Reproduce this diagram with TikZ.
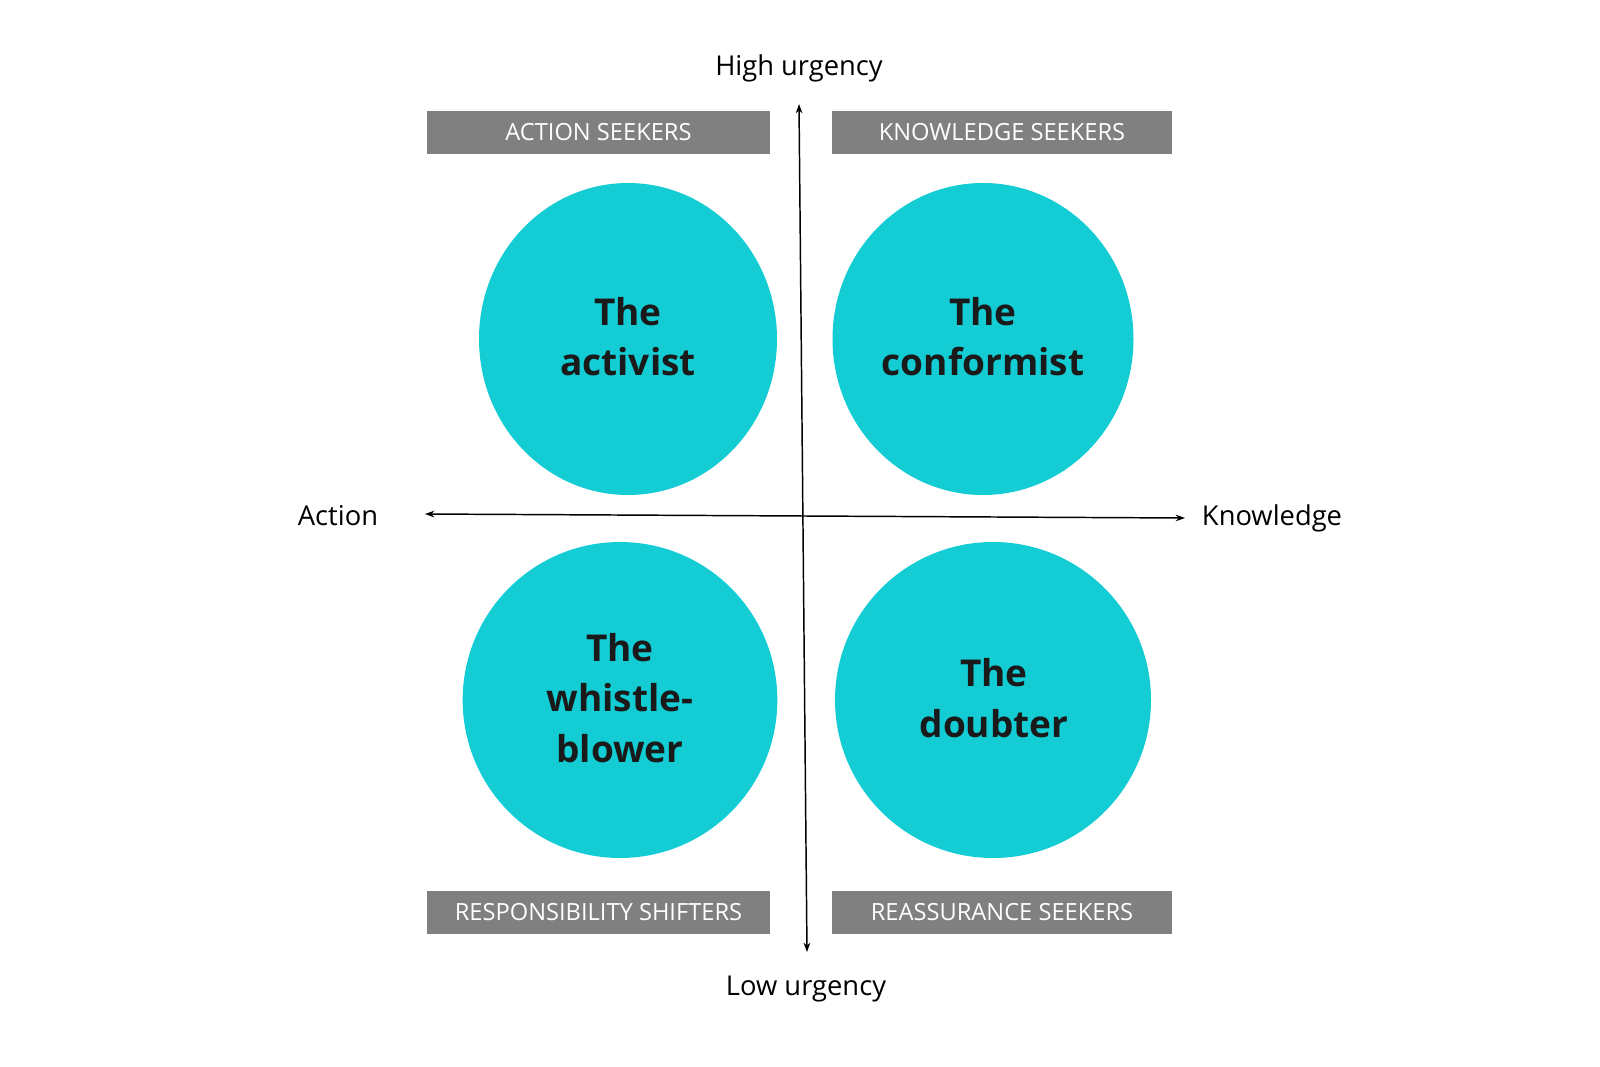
\documentclass[tikz,border=0pt]{standalone}
\usepackage{fontspec}
\setmainfont{Open Sans}
\usetikzlibrary{shapes.geometric,arrows.meta}
\definecolor{teal1}{RGB}{19,204,212}
\definecolor{boxgray}{RGB}{128,128,128}
\definecolor{darktext}{RGB}{26,26,26}
\begin{document}
\begin{tikzpicture}[x=0.75pt,y=-0.75pt,
  persona/.style={ellipse,fill=teal1,draw=none,inner sep=0pt},
  persontext/.style={font=\fontsize{27.75}{38}\selectfont\bfseries,text=darktext,align=center,inner sep=0pt},
  grouplabel/.style={fill=boxgray,draw=none,text=white,inner sep=0pt,font=\fontsize{17.75}{21}\selectfont,minimum height=32.25pt},
  axislabel/.style={font=\fontsize{20.5}{24}\selectfont,text=black,inner sep=0pt,anchor=base},
  axis/.style={line width=1.1pt,{Stealth[length=7pt,width=5pt]}-{Stealth[length=7pt,width=5pt]}}]
\useasboundingbox (0,0) rectangle (1600,1067);
% circles
\node[persona,minimum width=223.5pt,minimum height=234pt] (act) at (628,339) {};
\node[persona,minimum width=225.75pt,minimum height=234pt] (conf) at (983,339) {};
\node[persona,minimum width=236pt,minimum height=237pt] (whis) at (620,700) {};
\node[persona,minimum width=237pt,minimum height=237pt] (doub) at (993,700) {};
\node[persontext] (actt) at (628,336.5) {The\\activist};
\node[persontext] (conft) at (983,336.5) {The\\conformist};
\node[persontext] (whist) at (620,698) {The\\whistle-\\blower};
\node[persontext] (doubt) at (994,698) {The\\doubter};
% group boxes
\node[grouplabel,minimum width=257.25pt] (g1) at (598.5,132.5) {ACTION SEEKERS};
\node[grouplabel,minimum width=255pt] (g2) at (1002,132.5) {KNOWLEDGE SEEKERS};
\node[grouplabel,minimum width=257.25pt] (g3) at (598.5,912) {RESPONSIBILITY SHIFTERS};
\node[grouplabel,minimum width=255pt] (g4) at (1002,912) {REASSURANCE SEEKERS};
% axes
\coordinate (top) at (799,104);
\coordinate (bot) at (807,952);
\coordinate (lft) at (425,514);
\coordinate (rgt) at (1185,518);
\draw[axis] (bot) -- (top);
\draw[axis] (lft) -- (rgt);
\node[axislabel] (hi) at (799,75) {High urgency};
\node[axislabel] (lo) at (806,995) {Low urgency};
\node[axislabel] (ac) at (338,525) {Action};
\node[axislabel] (kn) at (1272,525) {Knowledge};
\end{tikzpicture}
\end{document}
